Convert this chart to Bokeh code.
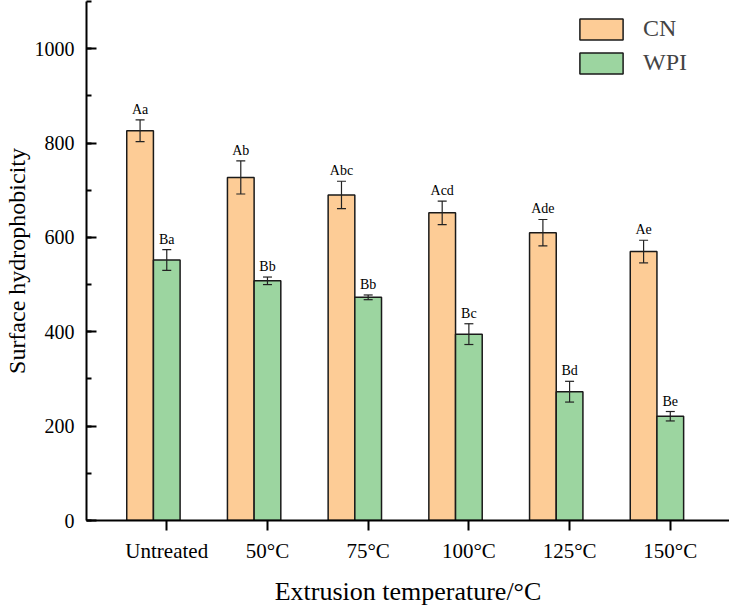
from bokeh.plotting import figure
from bokeh.models import Range1d, SingleIntervalTicker, FixedTicker, Whisker, ColumnDataSource, TeeHead, Legend, LegendItem
from bokeh.core.properties import value
from bokeh.embed import file_html
from bokeh.resources import INLINE

categories = ["Untreated", "50°C", "75°C", "100°C", "125°C", "150°C"]
cn_values = [826, 727, 690, 652, 610, 570]
cn_errors = [23, 35, 29, 25, 28, 24]
wpi_values = [552, 508, 473, 395, 273, 221]
wpi_errors = [22, 8, 5, 22, 22, 10]
cn_letters = ["Aa", "Ab", "Abc", "Acd", "Ade", "Ae"]
wpi_letters = ["Ba", "Bb", "Bb", "Bc", "Bd", "Be"]

FONT = "Liberation Serif"
BAR_W = 0.265
CN_COLOR = "#FDCC96"
WPI_COLOR = "#9CD5A0"

idx = list(range(len(categories)))
cn_x = [i - BAR_W for i in idx]
wpi_x = [i for i in idx]

cn_src = ColumnDataSource(dict(
    x=cn_x, top=cn_values,
    upper=[v + e for v, e in zip(cn_values, cn_errors)],
    lower=[v - e for v, e in zip(cn_values, cn_errors)],
    label=cn_letters))
wpi_src = ColumnDataSource(dict(
    x=wpi_x, top=wpi_values,
    upper=[v + e for v, e in zip(wpi_values, wpi_errors)],
    lower=[v - e for v, e in zip(wpi_values, wpi_errors)],
    label=wpi_letters))

p = figure(frame_width=643, frame_height=519, output_backend="svg", toolbar_location=None,
           x_range=Range1d(-0.797, 5.588), y_range=Range1d(0, 1100),
           min_border_left=0, min_border_right=0, min_border_top=1, min_border_bottom=0)
p.outline_line_color = None
p.xgrid.grid_line_color = None
p.ygrid.grid_line_color = None
p.background_fill_color = "white"

r_cn = p.vbar(x="x", top="top", width=BAR_W, bottom=0, source=cn_src,
              fill_color=CN_COLOR, line_color="#1a1a1a", line_width=1.5)
r_wpi = p.vbar(x="x", top="top", width=BAR_W, bottom=0, source=wpi_src,
               fill_color=WPI_COLOR, line_color="#1a1a1a", line_width=1.5)

for src in (cn_src, wpi_src):
    w = Whisker(base="x", upper="upper", lower="lower", source=src, level="overlay",
                line_color="#222222", line_width=1.2,
                upper_head=TeeHead(size=9, line_color="#222222", line_width=1.2),
                lower_head=TeeHead(size=9, line_color="#222222", line_width=1.2))
    p.add_layout(w)
    p.text(x="x", y="upper", text="label", source=src, text_align="center",
           text_baseline="bottom", y_offset=-3, text_font=value(FONT),
           text_font_size="14px", text_color="black")

# axes
p.xaxis.ticker = FixedTicker(ticks=idx)
p.xaxis.major_label_overrides = {i: c for i, c in zip(idx, categories)}
p.xaxis.major_tick_out = 10
p.xaxis.major_tick_in = 0
p.xaxis.axis_label = "Extrusion temperature/°C"

p.yaxis.ticker = SingleIntervalTicker(interval=200, num_minor_ticks=2)
p.yaxis.major_tick_in = 10
p.yaxis.major_tick_out = 0
p.yaxis.minor_tick_in = 5
p.yaxis.minor_tick_out = 0
p.yaxis.axis_label = "Surface hydrophobicity"

for ax in (p.xaxis, p.yaxis):
    ax.axis_line_width = 2
    ax.axis_line_color = "black"
    ax.major_tick_line_width = 2
    ax.minor_tick_line_width = 2
    ax.major_tick_line_color = "black"
    ax.major_label_text_font = FONT
    ax.axis_label_text_font = FONT
    ax.axis_label_text_font_style = "normal"
    ax.major_label_text_color = "black"
    ax.axis_label_text_color = "black"
p.xaxis.minor_tick_line_color = None
p.yaxis.minor_tick_line_color = "black"

p.xaxis.major_label_text_font_size = "21px"
p.yaxis.major_label_text_font_size = "20px"
p.xaxis.axis_label_text_font_size = "26px"
p.yaxis.axis_label_text_font_size = "24px"
p.yaxis.major_label_standoff = 12
p.xaxis.major_label_standoff = 8
p.yaxis.axis_label_standoff = 2
p.xaxis.axis_label_standoff = 11

legend = Legend(items=[LegendItem(label="CN", renderers=[r_cn]),
                       LegendItem(label="WPI", renderers=[r_wpi])],
                location=(488, 444), padding=0, margin=0, spacing=7,
                glyph_width=54, glyph_height=26, label_height=26,
                label_standoff=15, label_text_font=FONT, label_text_font_size="24px",
                border_line_color=None, background_fill_alpha=0)
p.add_layout(legend)

open("out.html", "w").write(file_html(p, INLINE))
